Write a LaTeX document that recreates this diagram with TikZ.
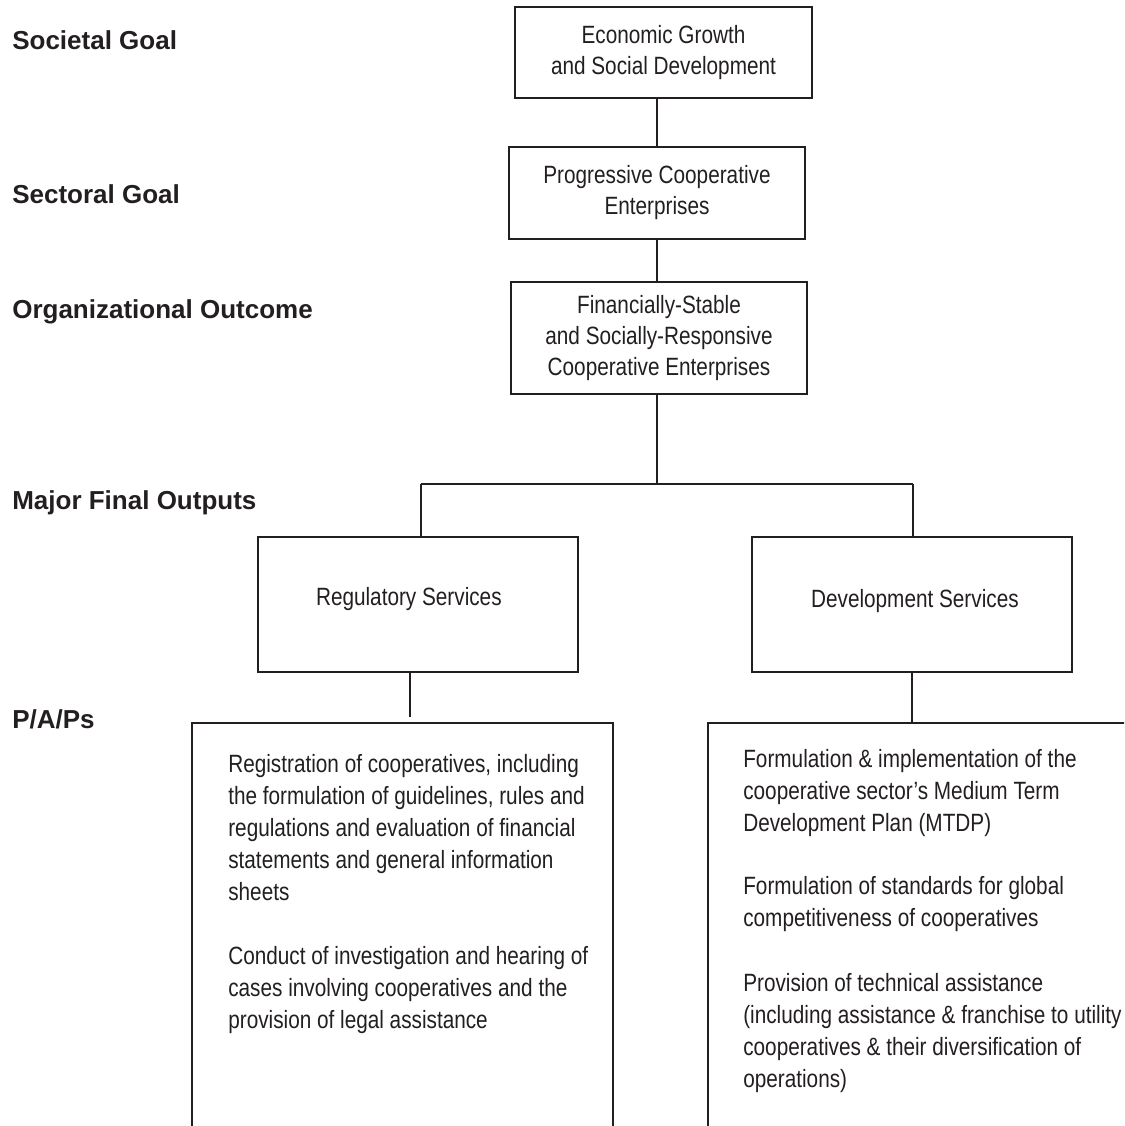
\documentclass[tikz,border=0pt]{standalone}
\usepackage{fontspec}
\setmainfont{Liberation Sans}
\newfontfamily\narrowfont{Liberation Sans}[FakeStretch=0.83]
\definecolor{ink}{HTML}{231F20}

\begin{document}
\begin{tikzpicture}[x=1pt,y=-1pt,line width=2.6pt,color=ink,
  goalbox/.style={draw,rectangle,inner sep=0pt,align=center,
    font=\narrowfont\fontsize{25}{31}\selectfont},
  levellabel/.style={anchor=base west,inner sep=0pt,
    font=\bfseries\fontsize{26}{30}\selectfont},
  boxlabel/.style={anchor=base east,inner sep=0pt,
    font=\narrowfont\fontsize{25}{31}\selectfont},
  paptext/.style={anchor=base west,inner sep=0pt,text width=400pt,align=flush left,
    font=\narrowfont\fontsize{25}{32}\selectfont}]

\useasboundingbox (0,0) rectangle (1124,1126);
\clip (0,0) rectangle (1124,1126);

% level labels on the left
\node[levellabel] (l1) at (11,50)  {Societal Goal};
\node[levellabel] (l2) at (11,204) {Sectoral Goal};
\node[levellabel] (l3) at (11,318) {Organizational Outcome};
\node[levellabel] (l4) at (11,509) {Major Final Outputs};
\node[levellabel] (l5) at (11,728) {P/A/Ps};

% goal chain
\node[goalbox,minimum width=297pt,minimum height=91pt] (sg) at (663.5,52.5)
  {Economic Growth\\and Social Development};
\node[goalbox,minimum width=296pt,minimum height=92pt] (sc) at (657,193)
  {Progressive Cooperative\\Enterprises};
\node[goalbox,minimum width=296pt,minimum height=112pt] (oo) at (659,338)
  {Financially-Stable\\and Socially-Responsive\\Cooperative Enterprises};

% major final outputs
\node[draw,rectangle,inner sep=0pt,minimum width=320pt,minimum height=135pt] (reg) at (418,604.5) {};
\node[boxlabel] (regt) at (503,605) {Regulatory Services};
\node[draw,rectangle,inner sep=0pt,minimum width=320pt,minimum height=135pt] (dev) at (912,604.5) {};
\node[boxlabel] (devt) at (1020,607) {Development Services};

% programs, activities and projects (open at the page edge)
\node[draw,rectangle,inner sep=0pt,minimum width=421pt,minimum height=437pt] (papL) at (402.5,941.5) {};
\node[draw,rectangle,inner sep=0pt,minimum width=452pt,minimum height=437pt] (papR) at (934,941.5) {};

\node[paptext] (tl) at (227,772) {Registration of cooperatives, including\\
the formulation of guidelines, rules and\\
regulations and evaluation of financial\\
statements and general information\\
sheets\\[32pt]
Conduct of investigation and hearing of\\
cases involving cooperatives and the\\
provision of legal assistance};

\node[paptext] (tr) at (742,767) {Formulation \& implementation of the\\
cooperative sector’s Medium Term\\
Development Plan (MTDP)\\[31pt]
Formulation of standards for global\\
competitiveness of cooperatives\\[33pt]
Provision of technical assistance\\
(including assistance \& franchise to utility\\
cooperatives \& their diversification of\\
operations)};

% connectors
\draw (sg.south -| sc.north) -- (sc.north);
\draw (sc.south) -- (sc.south |- oo.north);
\coordinate (fork) at (657,484);
\coordinate (forkL) at (421,484);
\coordinate (forkR) at (913,484);
\draw (oo.south -| fork) -- (fork);
\draw (forkL) -- (forkR);
\draw (forkL) -- (forkL |- reg.north);
\draw (forkR) -- (forkR |- dev.north);
\coordinate (dropL) at (410,717);
\draw (dropL |- reg.south) -- (dropL);
\draw (dev.south) -- (dev.south |- papR.north);
\end{tikzpicture}
\end{document}
